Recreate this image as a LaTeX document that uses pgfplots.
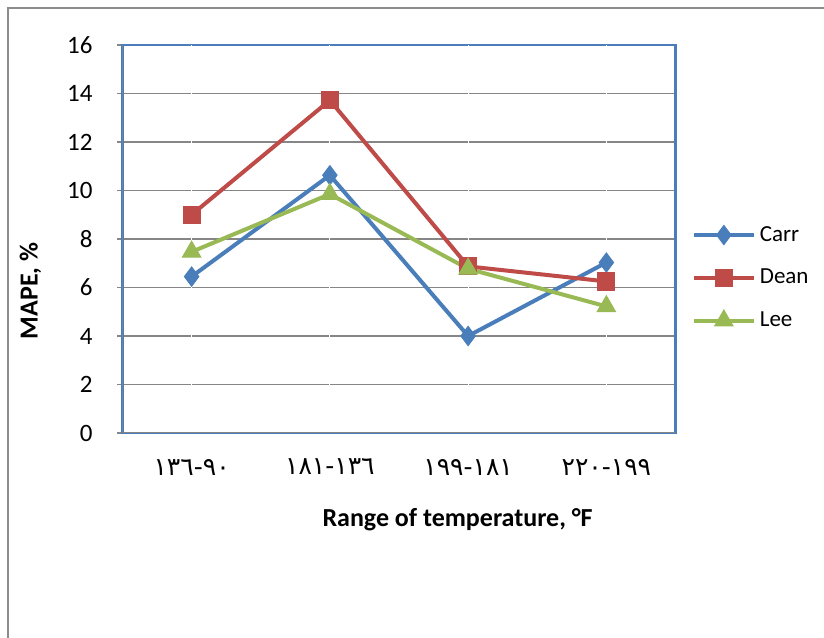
\documentclass[border=0pt]{standalone}
\usepackage{pgfplots}
\pgfplotsset{compat=1.18}
\usepackage{fontspec}
\setmainfont{Carlito}
\newfontfamily\arabicfont[Script=Arabic]{DejaVu Sans}
\definecolor{cblue}{HTML}{4A7EBB}
\definecolor{cred}{HTML}{BE4B48}
\definecolor{cgreen}{HTML}{98B954}
\definecolor{cgrid}{HTML}{868686}
\definecolor{cframe}{HTML}{8C8C8C}
\begin{document}
\begin{tikzpicture}
\path[use as bounding box] (0,0) rectangle (412pt,318.5pt);
\draw[cframe, line width=1pt] (4pt,-1pt) -- (4pt,314.5pt) -- (413pt,314.5pt);
\begin{axis}[
  at={(61.25pt,102pt)}, anchor=south west,
  scale only axis, width=276.5pt, height=194pt,
  xmin=-0.5, xmax=3.5, ymin=0, ymax=16,
  ytick={0,2,...,16},
  xtick={0,1,2,3},
  xticklabels={{\arabicfont ٩٠-١٣٦},{\arabicfont ١٣٦-١٨١},{\arabicfont ١٨١-١٩٩},{\arabicfont ١٩٩-٢٢٠}},
  /pgf/number format/assume math mode=true,
  tick align=outside,
  major tick length=2.5pt,
  xtick style={draw=none},
  ytick style={draw=cgrid, line width=0.6pt},
  xtick pos=left, ytick pos=left,
  ymajorgrids, grid style={cgrid, line width=0.6pt},
  axis line style={draw=cblue, line width=1.4pt},
  yticklabel style={font=\fontsize{12.5}{14}\selectfont, xshift=-9pt},
  xticklabel style={font=\fontsize{12.5}{14}\selectfont, yshift=-7pt},
  ylabel={\textbf{MAPE, \%}},
  ylabel style={font=\fontsize{13}{15}\selectfont, at={(rel axis cs:-0.1664,0.366)}, anchor=center, rotate=0},
  xlabel={\textbf{Range of temperature, °F}},
  xlabel style={font=\fontsize{13}{15}\selectfont, at={(rel axis cs:0.606,0)}, anchor=center, yshift=-43.5pt},
  legend style={draw=none, fill=none, at={(1.018,0.40)}, anchor=west,
    font=\fontsize{11.5}{13}\selectfont, row sep=8.5pt,
    /tikz/every even column/.append style={column sep=0pt}},
  legend cell align=left,
  legend image code/.code={\draw[mark repeat=2,mark phase=2] plot coordinates {(0pt,0pt) (15pt,0pt) (30pt,0pt)};},
]
\addplot[cblue, line width=2pt, mark=diamond*, mark size=4.8pt, mark options={solid, line width=0.5pt}]
  coordinates {(0,6.45) (1,10.63) (2,4.0) (3,7.03)};
\addlegendentry{Carr}
\addplot[cred, line width=2pt, mark=square*, mark size=4.3pt, mark options={solid, line width=0.5pt}]
  coordinates {(0,9.0) (1,13.72) (2,6.87) (3,6.25)};
\addlegendentry{Dean}
\addplot[cgreen, line width=2pt, mark=triangle*, mark size=5.3pt, mark options={solid, line width=0.5pt}]
  coordinates {(0,7.47) (1,9.85) (2,6.77) (3,5.22)};
\addlegendentry{Lee}
\addplot[white, line width=0.5pt, forget plot] coordinates {(0,0) (0,16)};
\addplot[white, line width=0.5pt, forget plot] coordinates {(1,0) (1,16)};
\addplot[white, line width=0.5pt, forget plot] coordinates {(2,0) (2,16)};
\addplot[white, line width=0.5pt, forget plot] coordinates {(3,0) (3,16)};
\draw[cgrid, line width=0.8pt] (rel axis cs:0,0) -- (rel axis cs:1,0);
\draw[cgrid, line width=0.8pt] (rel axis cs:0,0) -- (rel axis cs:0,1);
\end{axis}
\end{tikzpicture}
\end{document}
